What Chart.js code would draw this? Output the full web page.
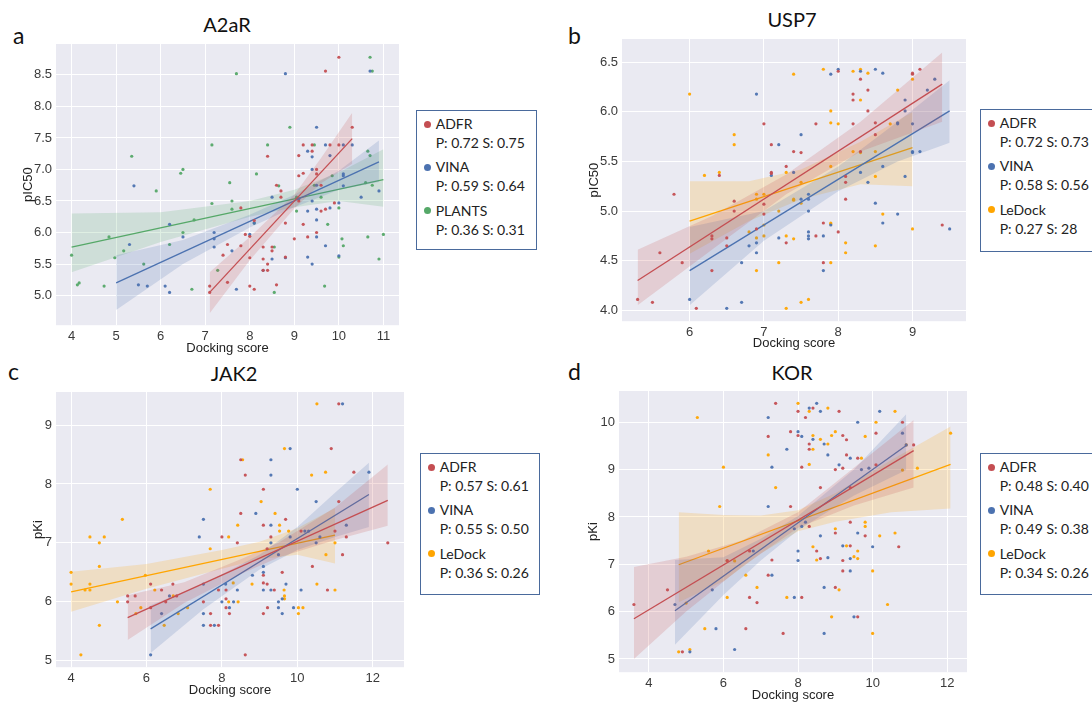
<!DOCTYPE html>
<html>
<head>
<meta charset="utf-8">
<script src="https://cdn.jsdelivr.net/npm/chart.js@4.4.1/dist/chart.umd.min.js"></script>
<style>
  body { margin: 0; background: #fff; width: 1092px; height: 702px; overflow: hidden; position: relative; font-family: Lato, sans-serif; }
  canvas { position: absolute; }
  .ttl { position: absolute; font-size: 20px; line-height: 20px; color: #111; transform: translateX(-50%); white-space: nowrap; }
  .let { position: absolute; font-size: 23px; line-height: 23px; color: #111; }
  .leg { position: absolute; border: 1.3px solid #4a6a9c; box-sizing: border-box; font-size: 14px; line-height: 19px; color: #222; padding: 3px 0 0 18.7px; white-space: nowrap; }
  .leg .g { margin-bottom: 5.4px; position: relative; }
  .leg .g i { position: absolute; left: -11.5px; top: 6.5px; width: 7px; height: 7px; border-radius: 50%; }
</style>
</head>
<body>
<div class="let" style="left:13px;top:24px">a</div>
<div class="let" style="left:568px;top:24px">b</div>
<div class="let" style="left:8px;top:360px">c</div>
<div class="let" style="left:568px;top:360px">d</div>

<div class="ttl" style="left:227px;top:14px">A2aR</div>
<div class="ttl" style="left:792px;top:9px">USP7</div>
<div class="ttl" style="left:234px;top:363px">JAK2</div>
<div class="ttl" style="left:792px;top:362px">KOR</div>

<canvas id="chartA"></canvas>
<canvas id="chartB"></canvas>
<canvas id="chartC"></canvas>
<canvas id="chartD"></canvas>

<div class="leg" style="left:416px;top:110px;width:121px;height:140px">
  <div class="g"><i style="background:#C44E52"></i>ADFR<br>P: 0.72 S: 0.75</div>
  <div class="g"><i style="background:#4C72B0"></i>VINA<br>P: 0.59 S: 0.64</div>
  <div class="g"><i style="background:#55A868"></i>PLANTS<br>P: 0.36 S: 0.31</div>
</div>
<div class="leg" style="left:980px;top:109px;width:130px;height:143px">
  <div class="g"><i style="background:#C44E52"></i>ADFR<br>P: 0.72 S: 0.73</div>
  <div class="g"><i style="background:#4C72B0"></i>VINA<br>P: 0.58 S: 0.56</div>
  <div class="g"><i style="background:#FFA500"></i>LeDock<br>P: 0.27 S: 28</div>
</div>
<div class="leg" style="left:420px;top:453px;width:120px;height:142px">
  <div class="g"><i style="background:#C44E52"></i>ADFR<br>P: 0.57 S: 0.61</div>
  <div class="g"><i style="background:#4C72B0"></i>VINA<br>P: 0.55 S: 0.50</div>
  <div class="g"><i style="background:#FFA500"></i>LeDock<br>P: 0.36 S: 0.26</div>
</div>
<div class="leg" style="left:980px;top:453px;width:130px;height:142px">
  <div class="g"><i style="background:#C44E52"></i>ADFR<br>P: 0.48 S: 0.40</div>
  <div class="g"><i style="background:#4C72B0"></i>VINA<br>P: 0.49 S: 0.38</div>
  <div class="g"><i style="background:#FFA500"></i>LeDock<br>P: 0.34 S: 0.26</div>
</div>

<script>
// ---- tick labels ----
const aXTicks = [4, 5, 6, 7, 8, 9, 10, 11];
const aYTicks = [5.0, 5.5, 6.0, 6.5, 7.0, 7.5, 8.0, 8.5];
const bXTicks = [6, 7, 8, 9];
const bYTicks = [4.0, 4.5, 5.0, 5.5, 6.0, 6.5];
const cXTicks = [4, 6, 8, 10, 12];
const cYTicks = [5, 6, 7, 8, 9];
const dXTicks = [4, 6, 8, 10, 12];
const dYTicks = [5, 6, 7, 8, 9, 10];

// ---- A2aR (docking score, pIC50) ----
const a2aAdfr = [[10.0,8.78],[9.7,8.56],[10.3,7.67],[9.2,7.39],[9.4,7.39],[9.8,7.39],[10.0,7.39],[9.4,7.29],[9.1,7.22],[8.4,7.21],[9.5,7.0],[9.2,6.94],[9.1,6.9],[9.5,6.93],[8.6,6.75],[9.6,6.75],[8.7,6.66],[8.7,6.56],[9.1,6.5],[9.9,6.47],[9.7,6.37],[9.6,6.34],[7.8,6.39],[8.8,6.15],[9.2,6.13],[8.1,6.19],[7.9,5.97],[8.0,5.94],[9.5,6.0],[9.3,5.93],[9.0,5.9],[7.5,5.81],[7.8,5.79],[8.3,5.77],[8.5,5.77],[7.4,5.64],[8.5,5.71],[8.0,5.6],[8.8,5.61],[8.3,5.58],[8.4,5.5],[8.3,5.4],[8.4,5.4],[7.5,5.21],[7.1,5.15],[8.0,5.15],[8.1,5.1],[8.6,5.17],[7.1,5.05]];
const a2aVina = [[8.8,8.52],[10.7,8.56],[9.5,7.67],[9.7,7.39],[10.1,7.39],[10.3,7.39],[9.3,7.29],[9.4,7.2],[9.8,7.22],[9.4,7.0],[10.1,6.93],[10.1,6.9],[9.5,6.75],[10.1,6.74],[5.4,6.74],[8.5,6.56],[10.5,6.56],[9.4,6.5],[9.1,6.53],[10.0,6.47],[9.8,6.39],[9.5,6.37],[9.3,6.34],[10.9,6.66],[8.1,6.15],[6.2,6.13],[9.5,6.2],[7.2,6.0],[8.0,5.97],[6.5,5.93],[7.2,5.9],[9.5,5.93],[5.3,5.81],[7.2,5.77],[9.7,5.79],[7.6,5.71],[8.5,5.58],[10.0,5.63],[9.3,5.61],[8.8,5.6],[9.4,5.5],[8.3,5.4],[5.5,5.17],[5.7,5.15],[6.1,5.15],[6.2,5.05],[7.7,5.1]];
const a2aPlants = [[10.7,8.78],[10.75,8.56],[7.7,8.52],[8.9,7.67],[7.15,7.39],[8.4,7.39],[9.45,7.39],[10.65,7.29],[10.7,7.22],[5.35,7.21],[6.5,7.0],[6.45,6.94],[8.15,6.93],[9.85,6.9],[8.65,6.74],[9.45,6.75],[10.75,6.75],[10.6,6.79],[7.55,6.79],[5.9,6.66],[9.6,6.56],[9.05,6.56],[7.6,6.5],[7.15,6.46],[10.0,6.39],[7.6,6.37],[9.05,6.34],[6.75,6.2],[8.1,6.15],[9.75,6.13],[6.5,6.0],[11.0,5.97],[10.65,5.93],[10.07,5.9],[4.84,5.93],[6.2,5.81],[10.1,5.79],[8.55,5.77],[5.17,5.71],[4.0,5.64],[10.0,5.61],[4.97,5.6],[10.9,5.58],[5.62,5.5],[7.28,5.4],[4.17,5.2],[4.13,5.17],[4.73,5.15],[6.7,5.1],[9.68,5.15],[8.55,5.05]];
const a2aAdfrFit = [[7.1,5.05],[10.3,7.49]];
const a2aVinaFit = [[5.0,5.2],[10.9,7.12]];
const a2aPlantsFit = [[4.0,5.77],[11.0,6.84]];
const a2aAdfrBandX = [7.1, 8, 9, 9.6, 10.3];
const a2aAdfrBandLo = [4.72, 5.56, 6.38, 6.78, 7.09];
const a2aAdfrBandHi = [5.37, 5.93, 6.6, 7.18, 7.9];
const a2aVinaBandX = [5.0, 6.5, 8, 9, 10, 10.9];
const a2aVinaBandLo = [4.77, 5.5, 6.08, 6.4, 6.68, 6.8];
const a2aVinaBandHi = [5.64, 5.88, 6.28, 6.6, 6.98, 7.46];
const a2aPlantsBandX = [4.0, 6, 8, 9, 10, 11.0];
const a2aPlantsBandLo = [5.37, 5.85, 6.25, 6.4, 6.5, 6.41];
const a2aPlantsBandHi = [6.3, 6.32, 6.5, 6.68, 6.95, 7.32];

// ---- USP7 (docking score, pIC50) ----
const uspAdfr = [[5.3,4.11],[5.5,4.08],[6.09,4.02],[5.6,4.58],[5.9,4.48],[5.79,5.17],[6.3,4.4],[6.3,4.75],[6.3,4.72],[6.5,4.73],[6.5,4.65],[6.4,5.36],[6.6,5.1],[6.6,5.0],[6.9,4.82],[7.0,5.07],[7.0,4.97],[7.0,5.88],[7.1,5.67],[7.1,5.39],[7.1,5.38],[7.3,5.45],[7.3,4.68],[7.4,5.6],[7.5,5.59],[7.7,5.88],[7.7,4.75],[7.8,4.88],[7.8,4.48],[8.0,4.79],[8.0,6.41],[8.1,5.12],[8.1,5.35],[8.1,5.29],[8.2,6.18],[8.2,6.12],[8.2,5.88],[8.3,6.33],[8.3,5.6],[8.4,6.22],[8.4,6.01],[8.5,5.89],[8.5,5.77],[9.0,6.39],[9.0,6.38],[9.1,6.43],[9.4,4.86]];
const uspVina = [[6.0,4.11],[6.5,4.02],[6.7,4.08],[6.7,4.48],[6.8,4.65],[6.9,4.58],[6.9,4.68],[6.9,6.18],[7.1,5.36],[7.2,5.67],[7.2,4.73],[7.4,5.39],[7.5,5.77],[7.5,5.12],[7.6,5.17],[7.6,5.12],[7.6,5.0],[7.6,4.79],[7.6,4.75],[7.6,4.72],[7.8,4.75],[7.8,4.4],[7.9,6.38],[7.9,4.86],[8.0,6.43],[8.3,6.41],[8.3,5.39],[8.4,5.29],[8.5,6.43],[8.5,5.08],[8.6,6.39],[8.6,5.45],[8.6,4.88],[8.8,5.88],[8.8,5.89],[8.8,4.97],[8.9,6.12],[8.9,6.01],[8.9,5.35],[9.0,5.88],[9.0,5.6],[9.0,5.59],[9.1,5.6],[9.2,6.22],[9.3,6.33],[9.5,4.82]];
const uspLedock = [[6.0,6.18],[6.2,5.36],[6.4,5.39],[6.6,5.77],[6.6,5.67],[6.8,4.79],[6.9,5.17],[6.9,5.12],[6.9,4.73],[6.9,4.4],[7.0,5.17],[7.0,4.75],[7.0,4.86],[7.2,5.0],[7.2,4.48],[7.3,5.39],[7.3,4.75],[7.3,4.02],[7.4,6.38],[7.4,5.12],[7.4,5.11],[7.4,4.72],[7.5,5.29],[7.5,5.08],[7.5,4.08],[7.6,4.11],[7.8,6.43],[7.9,6.01],[7.9,5.89],[7.9,5.45],[7.9,4.88],[7.9,4.87],[7.9,4.48],[8.0,5.88],[8.1,4.68],[8.1,4.58],[8.2,6.41],[8.2,5.6],[8.3,6.43],[8.3,6.12],[8.3,5.59],[8.4,6.39],[8.5,5.6],[8.5,5.35],[8.5,4.65],[8.6,4.97],[8.7,5.88],[8.8,6.22],[9.0,6.33],[9.0,4.82]];
const uspAdfrFit = [[5.3,4.30],[9.4,6.28]];
const uspVinaFit = [[6.0,4.40],[9.5,6.01]];
const uspLedockFit = [[6.0,4.90],[9.0,5.64]];
const uspAdfrBandX = [5.3, 6.3, 7.3, 8.3, 9.4];
const uspAdfrBandLo = [4.05, 4.61, 5.17, 5.6, 5.9];
const uspAdfrBandHi = [4.61, 4.95, 5.37, 5.9, 6.6];
const uspVinaBandX = [6.0, 7, 8, 8.8, 9.5];
const uspVinaBandLo = [4.05, 4.7, 5.2, 5.5, 5.69];
const uspVinaBandHi = [4.84, 5.0, 5.45, 5.9, 6.32];
const uspLedockBandX = [6.0, 6.8, 7.5, 8.3, 9.0];
const uspLedockBandLo = [4.57, 4.9, 5.12, 5.27, 5.25];
const uspLedockBandHi = [5.3, 5.3, 5.42, 5.7, 6.0];

// ---- JAK2 (docking score, pKi) ----
const jakAdfr = [[11.1,9.36],[10.9,8.6],[8.5,8.41],[11.5,8.2],[8.62,8.15],[9.1,7.91],[8.5,7.5],[11.1,7.7],[9.69,7.4],[9.1,7.3],[10.1,7.2],[11.0,7.2],[8.0,7.1],[9.3,7.1],[11.3,7.1],[8.41,7.0],[12.4,7.0],[9.2,6.9],[11.2,6.8],[10.4,6.6],[9.6,6.5],[9.1,6.45],[6.11,6.3],[6.7,6.3],[9.1,6.32],[9.2,6.3],[6.4,6.2],[7.91,6.2],[8.11,6.2],[9.39,6.2],[10.8,6.2],[5.5,6.1],[5.7,6.1],[6.8,6.1],[5.5,6.0],[6.51,6.0],[7.51,6.0],[8.11,6.05],[6.11,5.9],[8.11,5.9],[9.21,5.9],[7.7,5.8],[8.2,5.8],[9.1,5.8],[7.7,5.6],[7.91,5.6],[8.62,5.1]];
const jakVina = [[11.2,9.36],[9.81,8.6],[9.3,8.41],[11.9,8.2],[9.3,8.15],[10.0,7.91],[10.5,7.7],[8.9,7.5],[7.51,7.4],[9.3,7.3],[11.3,7.3],[10.2,7.2],[10.3,7.2],[7.4,7.1],[9.81,7.1],[10.6,7.1],[9.3,7.0],[10.5,7.0],[9.5,6.8],[9.1,6.6],[9.1,6.5],[8.81,6.45],[8.1,6.3],[9.7,6.3],[7.51,6.3],[8.41,6.2],[9.1,6.2],[9.3,6.2],[10.1,6.2],[6.61,6.1],[8.0,6.0],[8.31,6.0],[9.5,6.0],[9.6,6.05],[8.2,5.9],[9.5,5.9],[9.9,5.9],[6.4,5.8],[7.51,5.8],[9.6,5.8],[7.51,5.6],[7.8,5.6],[6.11,5.1]];
const jakLedock = [[10.52,9.36],[9.66,8.6],[8.55,8.41],[10.75,8.2],[10.38,8.15],[7.69,7.91],[9.04,7.7],[5.36,7.4],[9.41,7.5],[8.42,7.3],[9.53,7.3],[9.53,7.2],[9.77,7.2],[4.5,7.1],[4.88,7.1],[8.18,7.1],[4.75,7.0],[11.0,7.0],[7.69,6.9],[10.76,6.8],[4.75,6.6],[4.0,6.5],[5.97,6.45],[4.0,6.3],[4.5,6.3],[8.3,6.32],[8.8,6.3],[10.52,6.3],[4.37,6.2],[4.5,6.2],[6.22,6.2],[9.65,6.2],[11.0,6.2],[9.66,6.1],[6.71,6.1],[8.18,6.0],[8.43,6.0],[5.23,6.0],[9.66,6.05],[5.85,5.9],[7.09,5.9],[10.03,5.9],[10.15,5.9],[5.72,5.8],[6.84,5.8],[10.03,5.8],[4.75,5.6],[6.47,5.6],[4.26,5.1]];
const jakAdfrFit = [[5.5,5.73],[12.4,7.72]];
const jakVinaFit = [[6.11,5.54],[11.9,7.82]];
const jakLedockFit = [[4.0,6.17],[11.0,7.13]];
const jakAdfrBandX = [5.5, 7, 8.5, 9.5, 11, 12.4];
const jakAdfrBandLo = [5.35, 5.98, 6.47, 6.75, 7.05, 7.29];
const jakAdfrBandHi = [6.11, 6.33, 6.72, 7.0, 7.6, 8.33];
const jakVinaBandX = [6.11, 7.5, 9, 10, 11, 11.9];
const jakVinaBandLo = [5.13, 5.87, 6.55, 6.88, 7.1, 7.27];
const jakVinaBandHi = [5.94, 6.3, 6.8, 7.27, 7.85, 8.36];
const jakLedockBandX = [4.0, 6, 8, 9, 10, 11.0];
const jakLedockBandLo = [5.83, 6.22, 6.56, 6.72, 6.8, 6.65];
const jakLedockBandHi = [6.51, 6.64, 6.88, 7.02, 7.25, 7.59];

// ---- KOR (docking score, pKi) ----
const korAdfr = [[7.4,10.4],[8.0,10.23],[8.4,10.3],[8.2,10.1],[9.1,10.23],[7.2,9.7],[7.8,9.8],[8.0,9.72],[8.3,9.54],[8.3,9.43],[9.2,9.72],[9.3,9.63],[10.09,9.77],[10.8,10.0],[11.1,9.52],[8.1,9.05],[9.0,9.0],[9.2,9.03],[9.3,9.31],[9.6,9.24],[10.09,9.1],[8.6,8.62],[9.4,8.62],[7.8,8.22],[8.3,7.8],[9.4,7.89],[9.0,7.66],[9.8,7.6],[9.4,7.39],[10.7,7.37],[8.5,7.28],[6.7,7.28],[7.3,7.09],[8.6,7.12],[9.2,7.08],[6.1,7.08],[9.2,6.86],[7.2,6.77],[4.5,6.46],[9.0,6.51],[6.7,6.3],[8.1,6.3],[6.9,6.19],[3.6,6.15],[9.6,5.89],[6.6,5.64],[7.6,5.54],[4.9,5.15]];
const korVina = [[8.5,10.4],[8.3,10.3],[8.6,10.23],[7.2,10.1],[10.19,10.23],[9.6,10.0],[8.0,9.8],[8.1,9.7],[8.4,9.64],[7.7,9.43],[8.7,9.54],[10.8,9.77],[10.9,9.52],[8.8,9.31],[7.3,9.05],[9.1,9.1],[9.4,9.24],[9.7,9.0],[9.9,9.03],[7.2,8.22],[7.9,7.75],[8.1,7.8],[8.2,7.89],[8.6,7.6],[9.6,7.66],[9.2,7.39],[10.0,7.37],[8.0,7.28],[6.8,7.28],[8.0,7.08],[8.8,7.14],[9.4,7.12],[7.3,6.77],[9.4,6.86],[5.7,6.46],[8.7,6.51],[7.9,6.3],[4.7,6.15],[9.5,5.89],[5.8,5.64],[8.7,5.54],[6.3,5.2],[5.1,5.15]];
const korLedock = [[8.0,10.4],[8.3,10.23],[8.8,10.3],[10.6,10.23],[5.3,10.1],[10.09,10.0],[9.0,9.8],[8.9,9.72],[8.4,9.72],[8.6,9.64],[9.8,9.7],[12.09,9.77],[8.8,9.54],[8.4,9.43],[10.9,9.52],[7.2,9.31],[9.7,9.24],[6.0,9.05],[8.3,9.11],[10.8,8.99],[11.2,9.03],[7.4,8.62],[5.9,8.22],[9.8,7.89],[9.8,7.8],[9.0,7.75],[10.19,7.6],[10.6,7.66],[9.3,7.39],[8.4,7.37],[5.6,7.28],[9.6,7.28],[8.5,7.09],[9.5,7.16],[9.6,7.12],[6.3,7.07],[6.1,7.07],[10.0,6.86],[6.6,6.77],[6.9,6.51],[9.1,6.46],[6.1,6.3],[7.7,6.3],[5.0,6.18],[10.4,6.15],[8.9,5.89],[5.5,5.64],[10.0,5.54],[5.1,5.2],[4.8,5.15]];
const korAdfrFit = [[3.6,5.85],[11.1,9.4]];
const korVinaFit = [[4.7,6.02],[10.9,9.51]];
const korLedockFit = [[4.8,6.99],[12.09,9.11]];
const korAdfrBandX = [3.6, 5, 6.5, 8, 9.5, 11.1];
const korAdfrBandLo = [5.0, 6.0, 6.95, 7.77, 8.24, 8.62];
const korAdfrBandHi = [6.94, 7.16, 7.5, 8.1, 9.04, 10.05];
const korVinaBandX = [4.7, 6, 7, 8, 9.5, 10.9];
const korVinaBandLo = [5.3, 6.35, 7.08, 7.72, 8.45, 8.99];
const korVinaBandHi = [7.09, 7.15, 7.54, 8.02, 9.0, 10.17];
const korLedockBandX = [4.8, 6, 7, 8, 9, 10.5, 12.09];
const korLedockBandLo = [6.2, 6.64, 7.23, 7.7, 7.9, 8.1, 8.18];
const korLedockBandHi = [8.1, 8.04, 8.03, 8.14, 8.5, 9.2, 9.91];

// ---- styling helpers ----
const RED = [196, 78, 82], BLUE = [76, 114, 176], GREEN = [85, 168, 104], ORANGE = [255, 165, 0];
const rgba = (c, a) => `rgba(${c[0]},${c[1]},${c[2]},${a})`;
const pts = arr => arr.map(p => ({ x: p[0], y: p[1] }));

function series(col, points, fit, bx, lo, hi) {
  return [
    { type: 'scatter', data: pts(points), pointRadius: 1.6, pointHoverRadius: 0,
      backgroundColor: rgba(col, 0.95), borderWidth: 0 },
    { type: 'line', data: pts(fit), pointRadius: 0, borderColor: rgba(col, 1), borderWidth: 1.3, fill: false },
    { type: 'line', data: bx.map((x, i) => ({ x, y: lo[i] })), pointRadius: 0,
      borderColor: 'transparent', borderWidth: 0, fill: false },
    { type: 'line', data: bx.map((x, i) => ({ x, y: hi[i] })), pointRadius: 0,
      borderColor: 'transparent', borderWidth: 0, fill: '-1', backgroundColor: rgba(col, 0.19) }
  ];
}

const plotBg = {
  id: 'plotBg',
  beforeDraw(chart) {
    const { ctx, chartArea: a } = chart;
    ctx.save();
    ctx.fillStyle = '#EAEAF2';
    ctx.fillRect(a.left, a.top, a.right - a.left, a.bottom - a.top);
    ctx.restore();
  }
};

const YW = 50, PT = 12, PR = 12;
const tickFont = { family: "'Liberation Sans', Arial, sans-serif", size: 13 };

function makeChart(id, area, xr, yr, xTicks, yTicks, yDec, yLabel, yLabX, xLabY, datasets) {
  const cv = document.getElementById(id);
  const left = area[0] - YW, top = area[1] - PT;
  const xh = xLabY + 7.8 - area[3];
  const w = Math.round(area[2] + PR - left), h = Math.round(area[3] + xh - top);
  cv.style.left = left + 'px';
  cv.style.top = top + 'px';
  cv.width = w; cv.height = h;
  cv.style.width = w + 'px'; cv.style.height = h + 'px';

  new Chart(cv, {
    type: 'scatter',
    data: { datasets },
    options: {
      responsive: false,
      animation: false,
      layout: { padding: { top: PT, right: PR, left: 0, bottom: 0 } },
      plugins: { legend: { display: false }, tooltip: { enabled: false } },
      scales: {
        x: {
          type: 'linear', min: xr[0], max: xr[1],
          afterFit: s => { s.height = xh; },
          afterBuildTicks: s => { s.ticks = xTicks.map(v => ({ value: v })); },
          grid: { color: '#ffffff', lineWidth: 1, drawTicks: false },
          border: { display: false },
          ticks: { padding: 3, color: '#3a3a3a', font: tickFont, autoSkip: false, maxRotation: 0, callback: v => String(v) },
          title: { display: true, text: 'Docking score', color: '#222', font: tickFont, padding: 0 }
        },
        y: {
          type: 'linear', min: yr[0], max: yr[1],
          afterFit: s => { s.width = YW; },
          afterBuildTicks: s => { s.ticks = yTicks.map(v => ({ value: v })); },
          grid: { color: '#ffffff', lineWidth: 1, drawTicks: false },
          border: { display: false },
          ticks: { padding: 4, color: '#3a3a3a', font: tickFont, autoSkip: false, callback: v => v.toFixed(yDec) },
          title: { display: true, text: yLabel, color: '#222', font: tickFont,
                   padding: { top: yLabX - left - 7.8, bottom: 0 } }
        }
      }
    },
    plugins: [plotBg]
  });
}

makeChart('chartA', [56, 44, 399, 325], [3.65, 11.35], [4.53, 8.99], aXTicks, aYTicks, 1, 'pIC50', 28, 348, [
  ...series(RED, a2aAdfr, a2aAdfrFit, a2aAdfrBandX, a2aAdfrBandLo, a2aAdfrBandHi),
  ...series(BLUE, a2aVina, a2aVinaFit, a2aVinaBandX, a2aVinaBandLo, a2aVinaBandHi),
  ...series(GREEN, a2aPlants, a2aPlantsFit, a2aPlantsBandX, a2aPlantsBandLo, a2aPlantsBandHi)
]);

makeChart('chartB', [622, 39, 966, 321], [5.09, 9.72], [3.89, 6.735], bXTicks, bYTicks, 1, 'pIC50', 594, 343, [
  ...series(RED, uspAdfr, uspAdfrFit, uspAdfrBandX, uspAdfrBandLo, uspAdfrBandHi),
  ...series(BLUE, uspVina, uspVinaFit, uspVinaBandX, uspVinaBandLo, uspVinaBandHi),
  ...series(ORANGE, uspLedock, uspLedockFit, uspLedockBandX, uspLedockBandLo, uspLedockBandHi)
]);

makeChart('chartC', [56, 392, 404, 667], [3.6, 12.83], [4.89, 9.56], cXTicks, cYTicks, 0, 'pKi', 38, 690, [
  ...series(RED, jakAdfr, jakAdfrFit, jakAdfrBandX, jakAdfrBandLo, jakAdfrBandHi),
  ...series(BLUE, jakVina, jakVinaFit, jakVinaBandX, jakVinaBandLo, jakVinaBandHi),
  ...series(ORANGE, jakLedock, jakLedockFit, jakLedockBandX, jakLedockBandLo, jakLedockBandHi)
]);

makeChart('chartD', [619, 391, 967, 672], [3.2, 12.53], [4.72, 10.66], dXTicks, dYTicks, 0, 'pKi', 593, 695, [
  ...series(RED, korAdfr, korAdfrFit, korAdfrBandX, korAdfrBandLo, korAdfrBandHi),
  ...series(BLUE, korVina, korVinaFit, korVinaBandX, korVinaBandLo, korVinaBandHi),
  ...series(ORANGE, korLedock, korLedockFit, korLedockBandX, korLedockBandLo, korLedockBandHi)
]);
</script>
</body>
</html>
